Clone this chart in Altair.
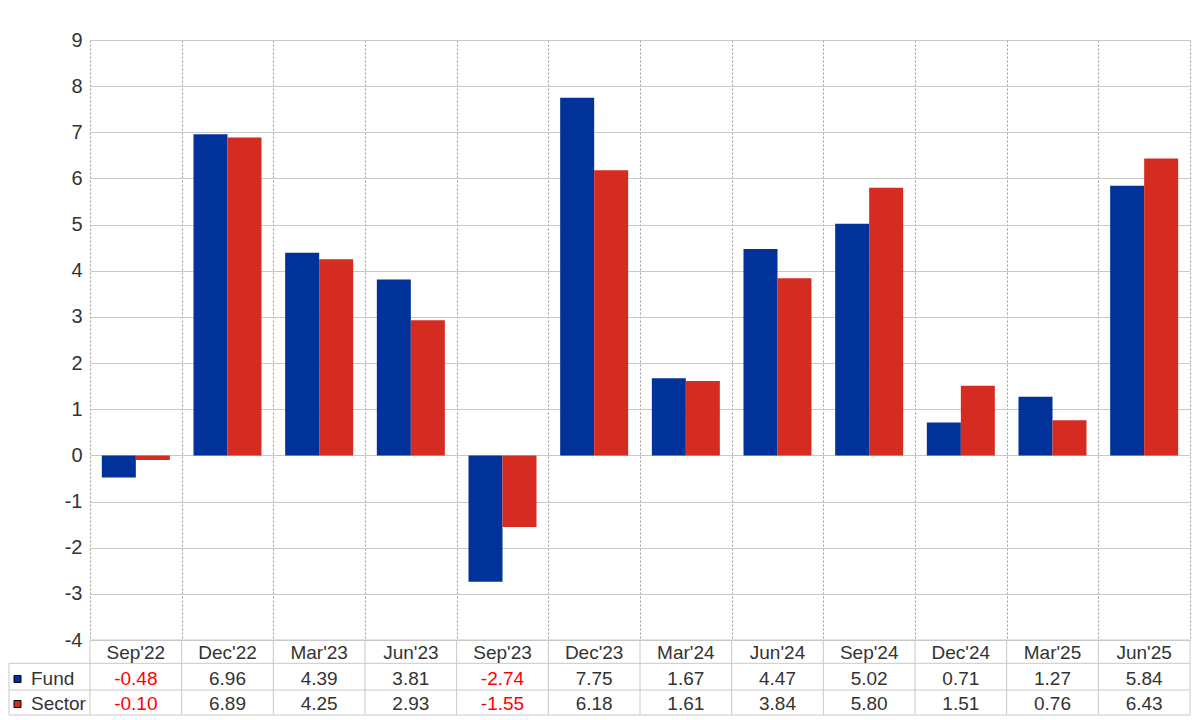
import altair as alt
import pandas as pd

categories = ["Sep'22", "Dec'22", "Mar'23", "Jun'23", "Sep'23", "Dec'23",
              "Mar'24", "Jun'24", "Sep'24", "Dec'24", "Mar'25", "Jun'25"]
fund = [-0.48, 6.96, 4.39, 3.81, -2.74, 7.75, 1.67, 4.47, 5.02, 0.71, 1.27, 5.84]
sector = [-0.10, 6.89, 4.25, 2.93, -1.55, 6.18, 1.61, 3.84, 5.80, 1.51, 0.76, 6.43]
series = ["Fund", "Sector"]
colors = ["#003299", "#D52B20"]
y_ticks = list(range(-4, 10))

df = pd.DataFrame({"cat": categories, "Fund": fund, "Sector": sector})
one = pd.DataFrame({"k": [0]})

FONT = "Liberation Sans"
TXT = "#333333"
LINE = "#c8c8c8"
FS = 19

xcat = alt.X("cat:N", sort=categories, title=None,
             scale=alt.Scale(paddingInner=0, paddingOuter=0))

base = alt.Chart(df)

bars = base.transform_fold(series, as_=["series", "value"]).mark_bar().encode(
    x=xcat,
    xOffset=alt.XOffset("series:N", sort=series,
                        scale=alt.Scale(paddingInner=0, paddingOuter=0.348)),
    y=alt.Y("value:Q", title=None,
            scale=alt.Scale(domain=[-4, 9], nice=False, zero=False)),
    color=alt.Color("series:N", scale=alt.Scale(domain=series, range=colors), legend=None),
)

ROW_TOP = 600
ROW_H1 = 623.3
ROW_H2 = 650
ROW_H3 = 675

header = base.mark_text(font=FONT, fontSize=FS, color=TXT, baseline="middle").encode(
    x=xcat, y=alt.value(613), text="cat:N")

fmt = base.transform_calculate(
    ftxt="replace(format(datum.Fund, '.2f'), '\u2212', '-')",
    stxt="replace(format(datum.Sector, '.2f'), '\u2212', '-')",
)

fund_txt = fmt.mark_text(font=FONT, fontSize=FS, baseline="middle").encode(
    x=xcat, y=alt.value(638.5), text="ftxt:N",
    color=alt.condition("datum.Fund < 0", alt.value("#ff0000"), alt.value(TXT)))

sector_txt = fmt.mark_text(font=FONT, fontSize=FS, baseline="middle").encode(
    x=xcat, y=alt.value(663.5), text="stxt:N",
    color=alt.condition("datum.Sector < 0", alt.value("#ff0000"), alt.value(TXT)))

vlines = base.mark_rule(color=LINE, strokeWidth=1).encode(
    x=alt.X("cat:N", sort=categories, bandPosition=0),
    y=alt.value(ROW_TOP), y2=alt.value(ROW_H3))

oc = alt.Chart(one)
right_line = oc.mark_rule(color=LINE, strokeWidth=1).encode(
    x=alt.value(1100), y=alt.value(ROW_TOP), y2=alt.value(ROW_H3))
left_line = oc.mark_rule(color=LINE, strokeWidth=1).encode(
    x=alt.value(-81), y=alt.value(ROW_H1), y2=alt.value(ROW_H3))
hl_top = oc.mark_rule(color=LINE, strokeWidth=1).encode(
    x=alt.value(0), x2=alt.value(1100), y=alt.value(ROW_TOP))
hl_1 = oc.mark_rule(color=LINE, strokeWidth=1).encode(
    x=alt.value(-81), x2=alt.value(1100), y=alt.value(ROW_H1))
hl_2 = oc.mark_rule(color=LINE, strokeWidth=1).encode(
    x=alt.value(-81), x2=alt.value(1100), y=alt.value(ROW_H2))
hl_3 = oc.mark_rule(color=LINE, strokeWidth=1).encode(
    x=alt.value(-81), x2=alt.value(1100), y=alt.value(ROW_H3))

sq_fund = oc.mark_rect(fill=colors[0], stroke="#000000", strokeWidth=1).encode(
    x=alt.value(-76), x2=alt.value(-69), y=alt.value(635.5), y2=alt.value(642.5))
sq_sector = oc.mark_rect(fill=colors[1], stroke="#000000", strokeWidth=1).encode(
    x=alt.value(-76), x2=alt.value(-69), y=alt.value(660.5), y2=alt.value(667.5))
lab_fund = oc.mark_text(font=FONT, fontSize=FS, color=TXT, align="left",
                        baseline="middle", text=series[0]).encode(
    x=alt.value(-59), y=alt.value(638.5))
lab_sector = oc.mark_text(font=FONT, fontSize=FS, color=TXT, align="left",
                          baseline="middle", text=series[1]).encode(
    x=alt.value(-59), y=alt.value(663.5))

chart = alt.layer(
    bars, vlines, right_line, left_line, hl_top, hl_1, hl_2, hl_3,
    header, fund_txt, sector_txt, sq_fund, sq_sector, lab_fund, lab_sector,
).properties(
    width=1100, height=600,
    autosize=alt.AutoSizeParams(type="none"),
    padding={"left": 82, "top": 32, "right": 2, "bottom": 80},
).configure_view(stroke=None).configure_axisX(
    labels=False, ticks=False, domain=False, grid=True, tickBand="extent",
    gridDash=[2, 2], gridColor="#999999", gridWidth=1, title=None,
).configure_axisY(
    values=y_ticks, grid=True, gridColor=LINE, gridWidth=1, domain=False, ticks=False,
    labelFont=FONT, labelFontSize=20, labelColor=TXT, labelPadding=8, title=None,
    labelExpr="replace(datum.label, '\u2212', '-')",
).configure_bar(stroke=None)

chart.save("out.html", embed_options={"renderer": "svg", "actions": False})
